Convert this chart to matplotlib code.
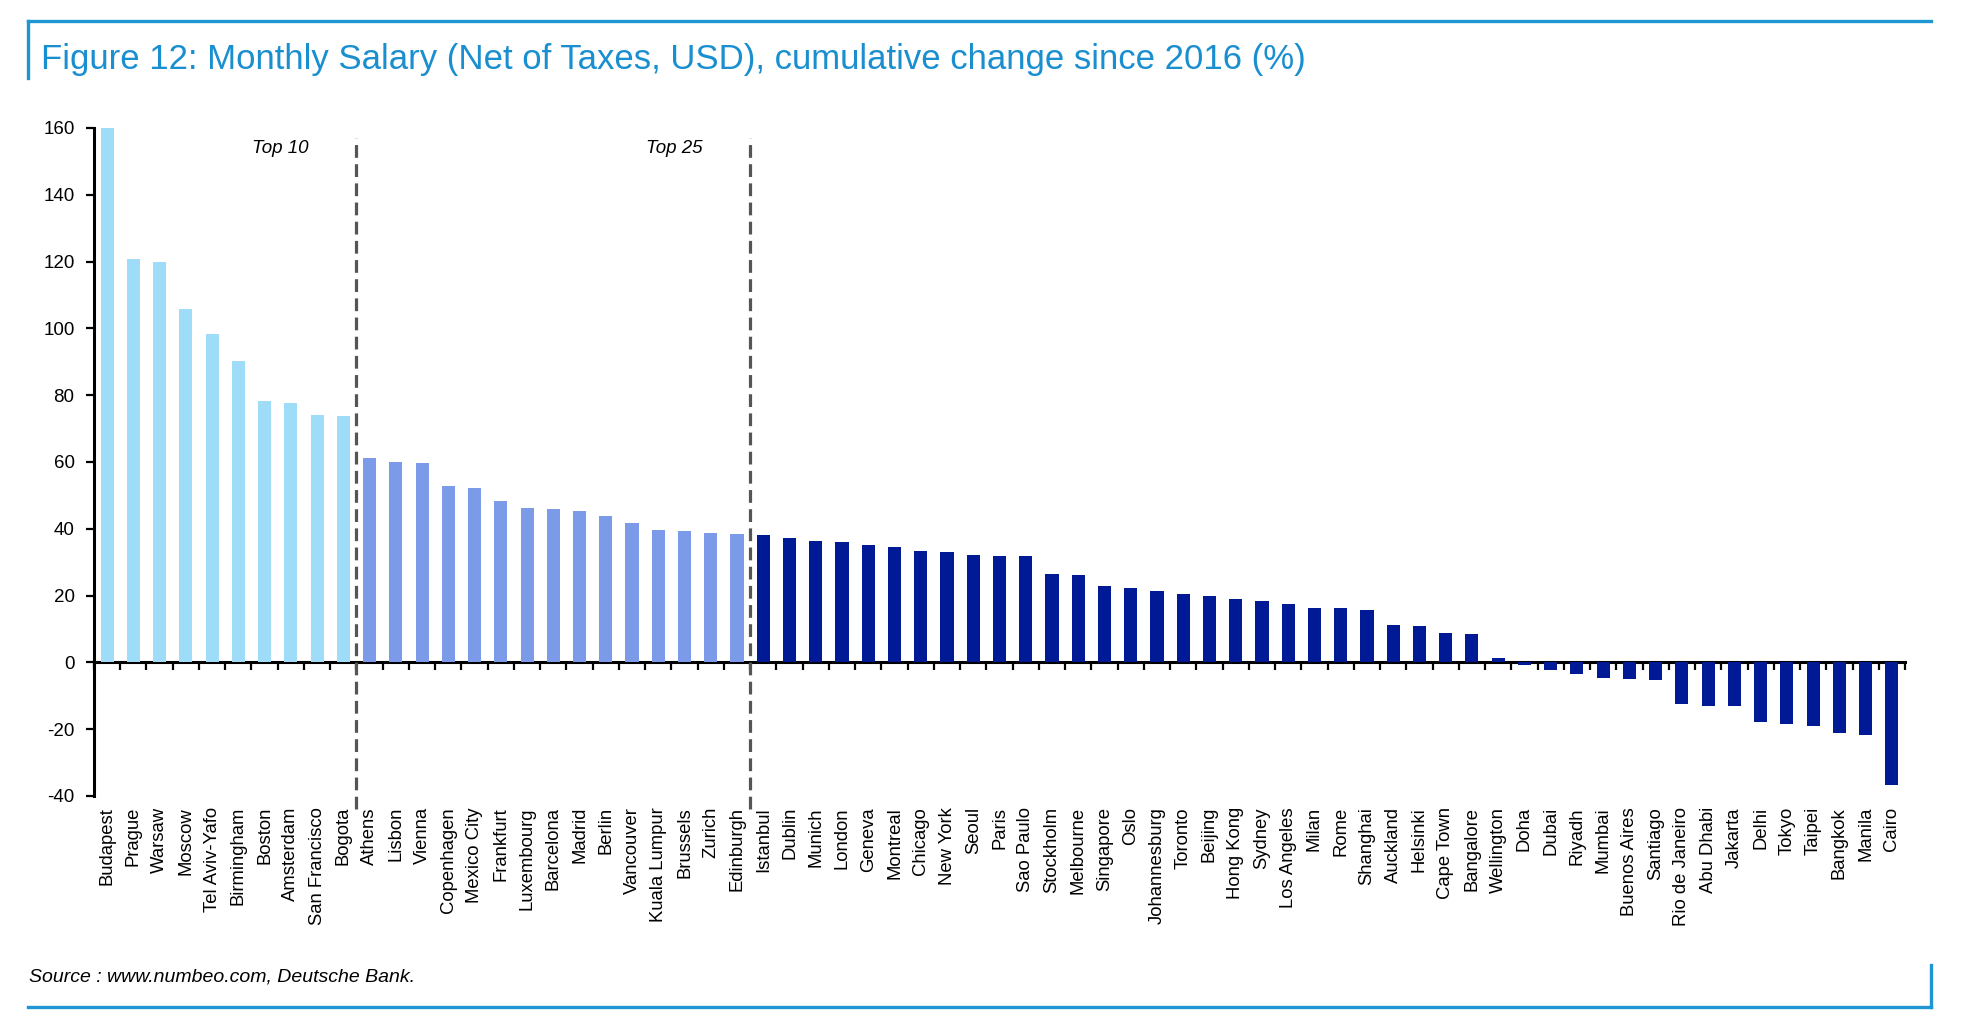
import matplotlib
matplotlib.use("Agg")
import matplotlib.pyplot as plt
from matplotlib.lines import Line2D
import numpy as np

plt.rcParams["font.family"] = ["Liberation Sans", "DejaVu Sans"]
plt.rcParams["axes.unicode_minus"] = False

# ---- data ----
top10 = ["Budapest", "Prague", "Warsaw", "Moscow", "Tel Aviv-Yafo", "Birmingham",
         "Boston", "Amsterdam", "San Francisco", "Bogota"]
top10_vals = [160, 120.9, 119.9, 105.9, 98.3, 90.2, 78.4, 77.7, 74.0, 73.8]

top25 = ["Athens", "Lisbon", "Vienna", "Copenhagen", "Mexico City", "Frankfurt",
         "Luxembourg", "Barcelona", "Madrid", "Berlin", "Vancouver", "Kuala Lumpur",
         "Brussels", "Zurich", "Edinburgh"]
top25_vals = [61.2, 60.1, 59.8, 52.7, 52.3, 48.2, 46.3, 46.0, 45.2, 43.7, 41.6, 39.6,
              39.3, 38.6, 38.3]

rest = ["Istanbul", "Dublin", "Munich", "London", "Geneva", "Montreal", "Chicago",
        "New York", "Seoul", "Paris", "Sao Paulo", "Stockholm", "Melbourne", "Singapore",
        "Oslo", "Johannesburg", "Toronto", "Beijing", "Hong Kong", "Sydney", "Los Angeles",
        "Milan", "Rome", "Shanghai", "Auckland", "Helsinki", "Cape Town", "Bangalore",
        "Wellington", "Doha", "Dubai", "Riyadh", "Mumbai", "Buenos Aires", "Santiago",
        "Rio de Janeiro", "Abu Dhabi", "Jakarta", "Delhi", "Tokyo", "Taipei", "Bangkok",
        "Manila", "Cairo"]
rest_vals = [38.2, 37.1, 36.3, 36.1, 35.1, 34.7, 33.5, 33.0, 32.2, 32.0, 31.8, 26.5,
             26.1, 23.0, 22.4, 21.3, 20.5, 19.8, 19.1, 18.3, 17.6, 16.3, 16.2, 15.6,
             11.3, 11.0, 8.9, 8.5, 1.3, -0.8, -2.4, -3.5, -4.6, -5.0, -5.3, -12.5,
             -13.1, -13.2, -17.7, -18.3, -18.9, -21.0, -21.7, -36.6]

C_TOP10 = "#9fdcf8"
C_TOP25 = "#7b9be8"
C_REST = "#001a96"
BLUE = "#1e96d4"
TITLE_BLUE = "#1a8fd0"

cities = top10 + top25 + rest
vals = top10_vals + top25_vals + rest_vals
colors = [C_TOP10] * len(top10) + [C_TOP25] * len(top25) + [C_REST] * len(rest)
x = np.arange(len(cities))

W, H = 1966, 1027
fig = plt.figure(figsize=(W / 100, H / 100), dpi=100)
ax = fig.add_axes([94 / W, 1 - 796 / H, (1905 - 94) / W, (796 - 128) / H])

ax.bar(x, vals, width=0.5, color=colors, zorder=2)
ax.set_xlim(-0.5, len(cities) - 0.5)
ax.set_ylim(-40, 160)
ax.set_yticks(np.arange(-40, 161, 20))
ax.tick_params(axis="y", direction="out", length=6, width=1.6, labelsize=13.5, pad=8)

# category labels at the bottom, no tick marks there
ax.set_xticks(x)
ax.set_xticklabels(cities, rotation=90, fontsize=13.3)
ax.tick_params(axis="x", length=0, pad=8)
for s in ("top", "right", "bottom"):
    ax.spines[s].set_visible(False)
ax.spines["left"].set_linewidth(2.2)

# zero axis with tick marks between categories
sec = ax.secondary_xaxis(0, transform=ax.transData)
sec.set_xticks(np.arange(len(cities) + 1) - 0.5)
sec.set_xticklabels([])
sec.tick_params(axis="x", direction="out", length=6, width=1.6)
sec.spines["bottom"].set_linewidth(2.2)

# group separators
for b in (len(top10) - 0.5, len(top10) + len(top25) - 0.5):
    ax.plot([b, b], [-44, 157], color="#555555", lw=2.3, ls=(0, (4, 2)),
            clip_on=False, zorder=3)
ax.text(6.6, 154, "Top 10", style="italic", fontsize=13.5, ha="center", va="center")
ax.text(21.6, 154, "Top 25", style="italic", fontsize=13.5, ha="center", va="center")

# frame decorations
def fl(x0, y0, x1, y1):
    fig.add_artist(Line2D([x0 / W, x1 / W], [1 - y0 / H, 1 - y1 / H],
                          color=BLUE, lw=2.4, transform=fig.transFigure))

fl(28, 21, 1931, 21)
fl(28, 21, 28, 78)
fl(28, 1007, 1931, 1007)
fl(1931, 965, 1931, 1007)

fig.text(41 / W, 1 - 59 / H,
         "Figure 12: Monthly Salary (Net of Taxes, USD), cumulative change since 2016 (%)",
         color=TITLE_BLUE, fontsize=25, ha="left", va="center")
fig.text(29 / W, 1 - 977 / H, "Source : www.numbeo.com, Deutsche Bank.",
         style="italic", fontsize=14, ha="left", va="center")

fig.savefig("out.png", dpi=100)
